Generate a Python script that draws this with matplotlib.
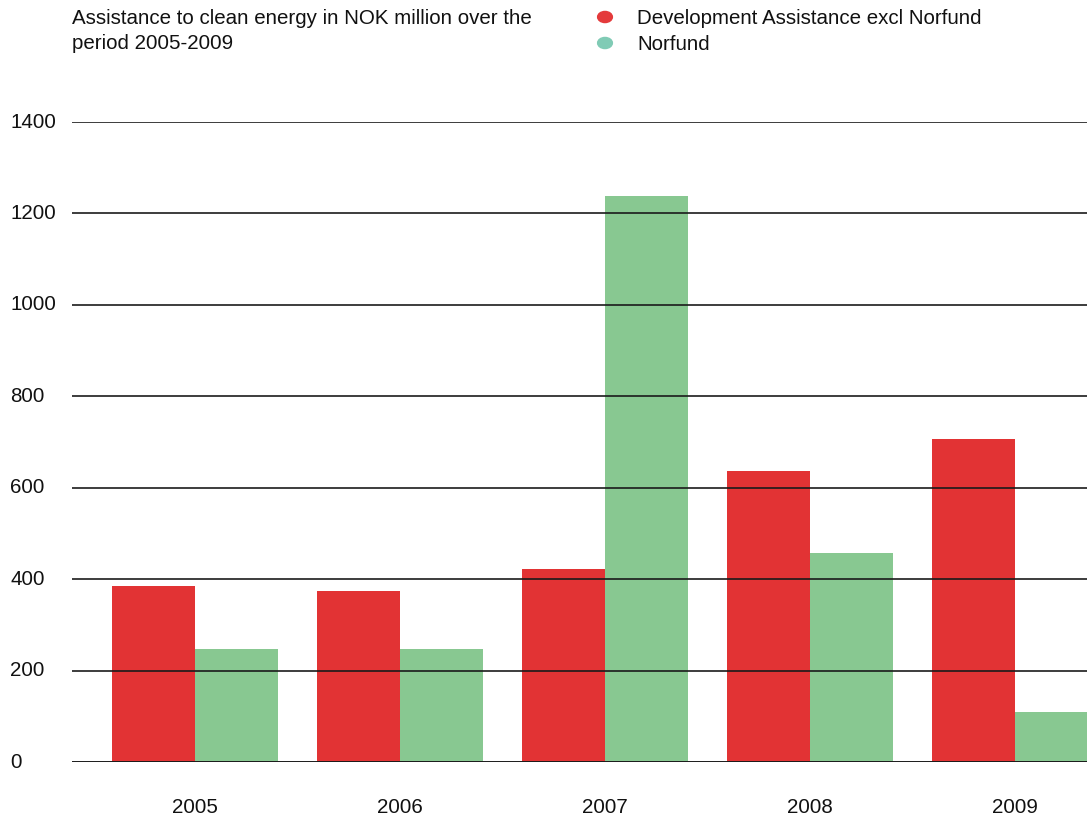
import matplotlib.pyplot as plt
import numpy as np

plt.rcParams['font.family'] = ['Liberation Sans', 'DejaVu Sans']

years = ["2005", "2006", "2007", "2008", "2009"]
dev_assist = [385, 374, 422, 637, 707]
norfund = [247, 247, 1238, 457, 109]
yticks = [0, 200, 400, 600, 800, 1000, 1200, 1400]

red = "#E23334"
green = "#88C891"

fig = plt.figure(figsize=(10.87, 8.16), dpi=100)
ax = fig.add_axes([72/1087, 54/816, 1015/1087, 640/816])

x = np.arange(len(years))
w = 0.405
ax.bar(x - w/2, dev_assist, w, color=red, zorder=1)
ax.bar(x + w/2, norfund, w, color=green, zorder=1)

# grid lines sit on top of the bars
for t in yticks:
    ax.axhline(t, color="#1a1a1a", lw=1.4, alpha=0.85 if t else 1.0, zorder=3)

ax.set_xlim(-0.6, 4.351)
ax.set_ylim(0, 1400)
for s in ax.spines.values():
    s.set_visible(False)

ax.set_yticks(yticks)
ax.set_yticklabels([str(t) for t in yticks], fontsize=14.8, color="#111111")
ax.tick_params(axis="y", length=0, pad=44.6)
for lab in ax.get_yticklabels():
    lab.set_ha("left")
    lab.set_va("center")

ax.set_xticks(x)
ax.set_xticklabels(years, fontsize=14.8, color="#111111")
ax.tick_params(axis="x", length=0, pad=26)

fig.text(72/1087, 1 - 9/816, "Assistance to clean energy in NOK million over the\nperiod 2005-2009",
         fontsize=14.8, va="top", ha="left", linespacing=1.42, color="#111111")

fig.patches.append(plt.Circle((605/1087, 1 - 17/816), 0.0068, transform=fig.transFigure,
                              color="#E43A3B", figure=fig))
fig.patches.append(plt.Circle((605/1087, 1 - 43/816), 0.0068, transform=fig.transFigure,
                              color="#80CBB5", figure=fig))
fig.text(637/1087, 1 - 18/816, "Development Assistance excl Norfund", fontsize=14.8,
         va="center", ha="left", color="#111111")
fig.text(637/1087, 1 - 44/816, "Norfund", fontsize=14.8, va="center", ha="left", color="#111111")

plt.savefig("out.png", dpi=100)
